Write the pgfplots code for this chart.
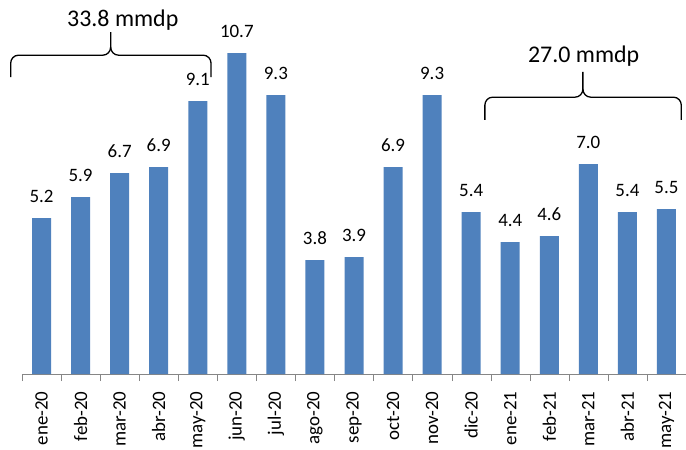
\documentclass[border=0pt]{standalone}
\usepackage{pgfplots}
\pgfplotsset{compat=1.18}
\usepackage{fontspec}
\setmainfont{Carlito}
\definecolor{barblue}{HTML}{4F81BD}
\definecolor{axisgray}{HTML}{868686}
\begin{document}
\begin{tikzpicture}
\begin{axis}[
scale only axis,
width=664bp,height=374bp,
xmin=-0.5,xmax=16.5,
ymin=0,ymax=12.47,
axis x line=bottom,axis y line=none,
x axis line style={-,draw=axisgray},
xtick=data,
xticklabels={ene-20,feb-20,mar-20,abr-20,may-20,jun-20,jul-20,ago-20,sep-20,oct-20,nov-20,dic-20,ene-21,feb-21,mar-21,abr-21,may-21},
xticklabel style={rotate=90,anchor=east,font=\fontsize{19}{22}\selectfont,inner sep=0bp},
major x tick style={draw=none},
minor xtick={-0.5,0.5,...,16.5},
minor x tick style={draw=axisgray},
minor tick length=7bp,
tick align=outside,
xticklabel shift=13bp,
ybar,bar width=19bp,
clip=false,
nodes near coords,
every node near coord/.append style={font=\fontsize{19}{22}\selectfont,anchor=base,yshift=16bp,/pgf/number format/.cd,fixed,fixed zerofill,precision=1,assume math mode=true},
]
\addplot[fill=barblue,draw=none] coordinates {
(0,5.2) (1,5.9) (2,6.7) (3,6.9) (4,9.1) (5,10.7) (6,9.3) (7,3.8) (8,3.9)
(9,6.9) (10,9.3) (11,5.4) (12,4.4) (13,4.6) (14,7.0) (15,5.4) (16,5.5)};
% braces
\draw[black,line width=1.3bp] (axis cs:-0.79,9.9) -- (axis cs:-0.79,10.36) to[out=90,in=180] (axis cs:-0.59,10.63)
 -- (axis cs:1.57,10.63) to[out=0,in=-90] (axis cs:1.77,10.9) -- (axis cs:1.77,11.4);
\draw[black,line width=1.3bp] (axis cs:1.77,10.9) to[out=-90,in=180] (axis cs:1.97,10.63)
 -- (axis cs:4.14,10.63) to[out=0,in=90] (axis cs:4.34,10.36) -- (axis cs:4.34,9.9);
\node[font=\fontsize{24}{28}\selectfont,anchor=base] at (axis cs:2.08,11.57) {33.8 mmdp};
\draw[black,line width=1.3bp] (axis cs:11.35,8.47) -- (axis cs:11.35,8.96) to[out=90,in=180] (axis cs:11.55,9.23)
 -- (axis cs:13.66,9.23) to[out=0,in=-90] (axis cs:13.86,9.5) -- (axis cs:13.86,10.07);
\draw[black,line width=1.3bp] (axis cs:13.86,9.5) to[out=-90,in=180] (axis cs:14.06,9.23)
 -- (axis cs:16.18,9.23) to[out=0,in=90] (axis cs:16.38,8.96) -- (axis cs:16.38,8.47);
\node[font=\fontsize{24}{28}\selectfont,anchor=base] at (axis cs:13.88,10.37) {27.0 mmdp};
\end{axis}
\pgfresetboundingbox
\path[use as bounding box] ([xshift=-22bp,yshift=-76bp]current axis.south west) rectangle (current axis.north east);
\end{tikzpicture}
\end{document}
